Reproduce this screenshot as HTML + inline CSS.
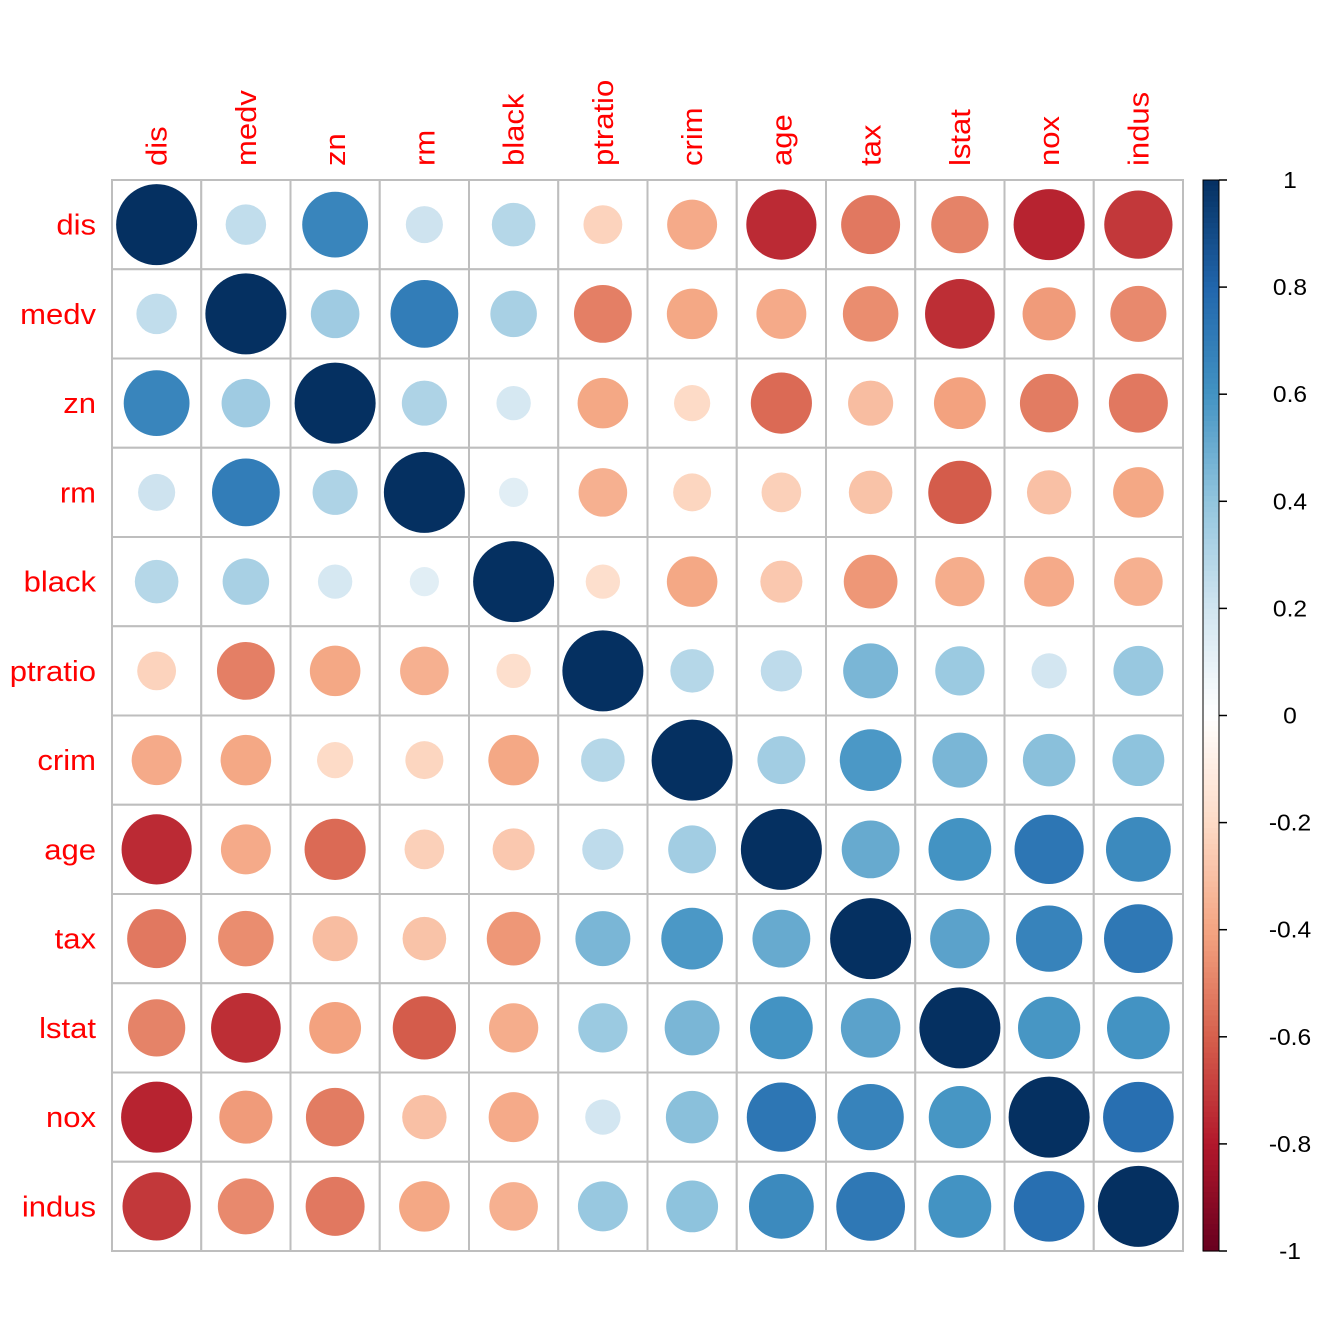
<!DOCTYPE html>
<html><head><meta charset="utf-8"><style>
html,body{margin:0;padding:0;background:#fff}
svg{display:block}
</style></head><body>
<svg id="chart" width="1344" height="1344" xmlns="http://www.w3.org/2000/svg" font-family="Liberation Sans, Arial, sans-serif"></svg>
<script>
const vars = ["dis","medv","zn","rm","black","ptratio","crim","age","tax","lstat","nox","indus"];
const pairs = {
"crim-zn":-0.20,"crim-indus":0.41,"crim-nox":0.42,"crim-rm":-0.22,"crim-age":0.35,"crim-dis":-0.38,"crim-tax":0.58,"crim-ptratio":0.29,"crim-black":-0.39,"crim-lstat":0.46,"crim-medv":-0.39,
"zn-indus":-0.53,"zn-nox":-0.52,"zn-rm":0.31,"zn-age":-0.57,"zn-dis":0.66,"zn-tax":-0.31,"zn-ptratio":-0.39,"zn-black":0.18,"zn-lstat":-0.41,"zn-medv":0.36,
"indus-nox":0.76,"indus-rm":-0.39,"indus-age":0.64,"indus-dis":-0.71,"indus-tax":0.72,"indus-ptratio":0.38,"indus-black":-0.36,"indus-lstat":0.60,"indus-medv":-0.48,
"nox-rm":-0.30,"nox-age":0.73,"nox-dis":-0.77,"nox-tax":0.67,"nox-ptratio":0.19,"nox-black":-0.38,"nox-lstat":0.59,"nox-medv":-0.43,
"rm-age":-0.24,"rm-dis":0.21,"rm-tax":-0.29,"rm-ptratio":-0.36,"rm-black":0.13,"rm-lstat":-0.61,"rm-medv":0.70,
"age-dis":-0.75,"age-tax":0.51,"age-ptratio":0.26,"age-black":-0.27,"age-lstat":0.60,"age-medv":-0.38,
"dis-tax":-0.53,"dis-ptratio":-0.23,"dis-black":0.29,"dis-lstat":-0.50,"dis-medv":0.25,
"tax-ptratio":0.46,"tax-black":-0.44,"tax-lstat":0.54,"tax-medv":-0.47,
"ptratio-black":-0.18,"ptratio-lstat":0.37,"ptratio-medv":-0.51,
"black-lstat":-0.37,"black-medv":0.33,
"lstat-medv":-0.74
};
const tickValues = [1,0.8,0.6,0.4,0.2,0,-0.2,-0.4,-0.6,-0.8,-1];
const tickLabels = ["1","0.8","0.6","0.4","0.2","0","-0.2","-0.4","-0.6","-0.8","-1"];
const stops = ["#67001F","#B2182B","#D6604D","#F4A582","#FDDBC7","#FFFFFF","#D1E5F0","#92C5DE","#4393C3","#2166AC","#053061"];

const NS="http://www.w3.org/2000/svg";
const svg=document.getElementById('chart');
const X0=112,Y0=180,X1=1183,Y1=1251,n=vars.length,cw=(X1-X0)/n,RMAX=40.5;
function corr(a,b){if(a===b)return 1;return pairs[a+"-"+b]!==undefined?pairs[a+"-"+b]:pairs[b+"-"+a];}
function hex(h){return [1,3,5].map(i=>parseInt(h.substr(i,2),16));}
function color(v){const t=(v+1)/2*(stops.length-1);const i=Math.min(Math.floor(t),stops.length-2);const f=t-i;const a=hex(stops[i]),b=hex(stops[i+1]);return "rgb("+a.map((c,k)=>Math.round(c+(b[k]-c)*f)).join(",")+")";}
function mk(tag,attrs){const e=document.createElementNS(NS,tag);for(const k in attrs)e.setAttribute(k,attrs[k]);svg.appendChild(e);return e;}

vars.forEach((r,i)=>{vars.forEach((c,j)=>{
  const v=corr(r,c);
  const cell=mk('rect',{x:X0+j*cw,y:Y0+i*cw,width:cw,height:cw,fill:'#fff',stroke:'#bebebe','stroke-width':2});
  
  
  const circ=mk('circle',{cx:X0+(j+0.5)*cw,cy:Y0+(i+0.5)*cw,r:RMAX*Math.sqrt(Math.abs(v)),fill:color(v)});
  
  
});});
vars.forEach((v,i)=>{
  const ry=Y0+(i+0.5)*cw+10;
  const t=mk('text',{x:0,y:0,transform:'translate(96,'+ry+') scale(1.07,1)','text-anchor':'end','font-size':29,fill:'#ff0000'});t.textContent=v;
  
  
  const cx=X0+(i+0.5)*cw+10;
  const c=mk('text',{x:0,y:0,transform:'translate('+cx+',166) rotate(-90) scale(1.07,1)','font-size':29,fill:'#ff0000'});c.textContent=v;
  
  
});
const CB0=1203,CB1=1219;
const steps=200;
for(let k=0;k<steps;k++){
  const v=1-(k+0.5)/steps*2;
  const h=(Y1-Y0)/steps;
  const s=mk('rect',{x:CB0,y:Y0+k*h,width:CB1-CB0,height:h+0.6,fill:color(v)});
  
  
}
const frame=mk('rect',{x:CB0,y:Y0,width:CB1-CB0,height:Y1-Y0,fill:'none',stroke:'#000','stroke-width':1});


tickValues.forEach((tv,k)=>{
  const y=Y0+(1-tv)/2*(Y1-Y0);
  const l=mk('line',{x1:CB1,x2:CB1+8,y1:y,y2:y,stroke:'#000','stroke-width':1.5});
  
  
  const t=mk('text',{x:0,y:0,transform:'translate(1290,'+(y+8)+') scale(1.07,1)','text-anchor':'middle','font-size':23,fill:'#000'});t.textContent=tickLabels[k];
  
  
});
</script>
</body></html>
